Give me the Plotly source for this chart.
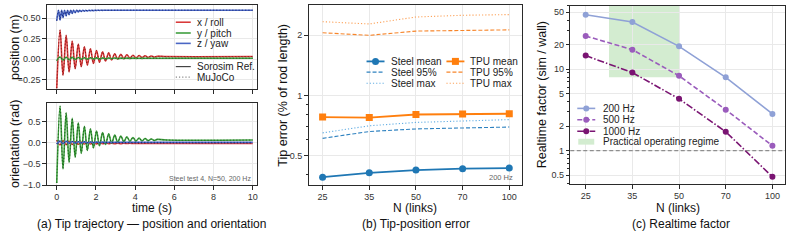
import numpy as np
import plotly.graph_objects as go

# ---------------- Panel (a): tip trajectory (extrema) ----------------
t_ext = [0.0, 0.17, 0.32, 0.48, 0.63, 0.79, 0.94, 1.10, 1.25, 1.41, 1.56, 1.72, 1.87, 2.03,
         2.18, 2.34, 2.49, 2.65, 2.80, 2.96, 3.11, 3.27, 3.42, 3.58, 3.73, 3.89, 4.04, 4.20,
         4.35, 4.51, 4.66, 4.82, 4.97, 5.13, 5.60, 10.0]
pos_x = [-0.36, 0.357, -0.20, 0.29, -0.16, 0.22, -0.12, 0.185, -0.095, 0.15, -0.075, 0.125,
         -0.055, 0.105, -0.04, 0.088, -0.025, 0.075, -0.012, 0.065, -0.003, 0.058, 0.004, 0.052,
         0.01, 0.047, 0.014, 0.043, 0.018, 0.04, 0.021, 0.037, 0.024, 0.034, 0.03, 0.03]
pos_y = [-0.02, 0.025, -0.012, 0.022, -0.008, 0.02, -0.005, 0.018, -0.003, 0.016, -0.001, 0.015,
         0.0, 0.014, 0.002, 0.013, 0.003, 0.012, 0.004, 0.012, 0.005, 0.011, 0.006, 0.011,
         0.007, 0.011, 0.008, 0.01, 0.008, 0.01, 0.009, 0.01, 0.009, 0.01, 0.01, 0.01]
t_z = [0.0, 0.09, 0.17, 0.25, 0.32, 0.40, 0.48, 0.55, 0.63, 0.71, 0.79, 0.86, 0.94, 1.02, 1.10,
       1.17, 1.25, 1.33, 1.41, 1.48, 1.56, 1.64, 1.72, 1.79, 1.87, 1.95, 2.03, 2.10, 2.18, 2.26,
       2.34, 2.41, 2.49, 3.0, 10.0]
pos_z = [0.47, 0.60, 0.48, 0.60, 0.51, 0.60, 0.53, 0.60, 0.545, 0.60, 0.56, 0.60, 0.57, 0.60,
         0.577, 0.60, 0.583, 0.60, 0.588, 0.60, 0.591, 0.60, 0.593, 0.60, 0.595, 0.60, 0.596,
         0.60, 0.597, 0.60, 0.598, 0.60, 0.599, 0.60, 0.60]
ori_roll = [0.06, -0.05, 0.05, -0.045, 0.035, -0.04, 0.025, -0.035, 0.015, -0.03, 0.008, -0.028,
            0.002, -0.025, -0.003, -0.023, -0.006, -0.021, -0.008, -0.02, -0.01, -0.019, -0.011,
            -0.018, -0.012, -0.017, -0.013, -0.017, -0.014, -0.016, -0.014, -0.016, -0.015,
            -0.015, -0.015, -0.015]
ori_pitch = [-0.95, 0.87, -0.62, 0.71, -0.46, 0.58, -0.34, 0.47, -0.25, 0.39, -0.18, 0.33,
             -0.12, 0.28, -0.07, 0.24, -0.04, 0.21, -0.01, 0.18, 0.01, 0.16, 0.025, 0.14,
             0.035, 0.125, 0.04, 0.11, 0.045, 0.10, 0.05, 0.09, 0.055, 0.08, 0.065, 0.065]
ori_yaw = [-0.03, 0.04, -0.02, 0.035, -0.012, 0.03, -0.006, 0.025, -0.002, 0.021, 0.001, 0.018,
           0.003, 0.016, 0.005, 0.015, 0.006, 0.014, 0.007, 0.013, 0.008, 0.012, 0.008, 0.012,
           0.009, 0.011, 0.009, 0.011, 0.01, 0.011, 0.01, 0.01, 0.01, 0.01, 0.01, 0.01]
time_ticks = [0, 2, 4, 6, 8, 10]

# ---------------- Panel (b): tip-position error (% of rod length) ----------------
N_links = [25, 35, 50, 70, 100]
steel_mean = [0.39, 0.41, 0.423, 0.43, 0.433]
steel_p95 = [0.61, 0.66, 0.68, 0.69, 0.695]
steel_max = [0.65, 0.705, 0.733, 0.748, 0.757]
tpu_mean = [0.78, 0.775, 0.803, 0.807, 0.81]
tpu_p95 = [2.06, 2.00, 2.10, 2.12, 2.13]
tpu_max = [2.34, 2.28, 2.47, 2.52, 2.54]
err_ticks = [0.5, 1, 2]
err_minor = [0.4, 0.6, 0.7, 0.8, 0.9]

# ---------------- Panel (c): realtime factor ----------------
rtf_200 = [46.6, 38.1, 19.1, 7.95, 2.83]
rtf_500 = [25.6, 17.4, 8.3, 3.19, 1.15]
rtf_1000 = [14.7, 9.1, 4.33, 1.71, 0.478]
regime_N = [30, 50]
realtime_line = 1.0
rtf_ticks = [0.5, 1, 2, 5, 10, 20, 50]
rtf_minor = [0.4, 0.6, 0.7, 0.8, 0.9, 3, 4, 6, 7, 8, 9, 30, 40, 60]

idx = list(range(len(N_links)))
FONT = "Liberation Sans, Arial, sans-serif"
W, H = 793, 241

C_RED, C_GRN, C_BLU = '#d93a3a', '#3f9f3f', '#4a66c4'
C_RED_D, C_GRN_D, C_BLU_D = '#7a1515', '#175c17', '#15256e'
C_STEEL, C_STEEL95, C_STEELMX = '#1f77b4', '#2f82c0', '#64aee3'
C_TPU, C_TPU95, C_TPUMX = '#ff7f0e', '#f7852a', '#fca25a'
C_200, C_500, C_1000 = '#8fa1d6', '#9a5cbc', '#7a1472'
C_REGIME = '#d3ecd0'

DASH = '4px,2px'
DOT = '1.2px,2px'
DASHDOT = '7px,2px,1.5px,2px'

fig = go.Figure()

def ts(x, y, color, xa, ya, dash='solid', width=1.6):
    fig.add_trace(go.Scatter(x=x, y=y, mode='lines', xaxis=xa, yaxis=ya, showlegend=False,
                             line=dict(color=color, width=width, dash=dash, shape='spline', smoothing=1.0),
                             hoverinfo='skip'))

# Panel a, top (position)
for (tt, vv, c, cd) in [(t_ext, pos_x, C_RED, C_RED_D), (t_ext, pos_y, C_GRN, C_GRN_D), (t_z, pos_z, C_BLU, C_BLU_D)]:
    ts(tt, vv, c, 'x', 'y', width=1.6)
    ts(tt, vv, cd, 'x', 'y', dash=DOT, width=0.9)
# Panel a, bottom (orientation)
for (vv, c, cd) in [(ori_roll, C_RED, C_RED_D), (ori_pitch, C_GRN, C_GRN_D), (ori_yaw, C_BLU, C_BLU_D)]:
    ts(t_ext, vv, c, 'x2', 'y2', width=1.6)
    ts(t_ext, vv, cd, 'x2', 'y2', dash=DOT, width=0.9)

def series(x, y, color, xa, ya, dash='solid', width=1.2, symbol=None, msize=6):
    mode = 'lines+markers' if symbol else 'lines'
    fig.add_trace(go.Scatter(x=x, y=y, mode=mode, xaxis=xa, yaxis=ya, showlegend=False,
                             line=dict(color=color, width=width, dash=dash),
                             marker=dict(symbol=symbol or 'circle', size=msize, color=color),
                             hoverinfo='skip'))

# Panel b
series(idx, steel_p95, C_STEEL95, 'x3', 'y3', dash=DASH, width=1.1)
series(idx, steel_max, C_STEELMX, 'x3', 'y3', dash=DOT, width=1.1)
series(idx, tpu_p95, C_TPU95, 'x3', 'y3', dash=DASH, width=1.1)
series(idx, tpu_max, C_TPUMX, 'x3', 'y3', dash=DOT, width=1.1)
series(idx, steel_mean, C_STEEL, 'x3', 'y3', width=1.8, symbol='circle', msize=7)
series(idx, tpu_mean, C_TPU, 'x3', 'y3', width=1.8, symbol='square', msize=7)

# Panel c
series(idx, rtf_200, C_200, 'x4', 'y4', width=1.6, symbol='circle', msize=6)
series(idx, rtf_500, C_500, 'x4', 'y4', dash='5px,2.5px', width=1.6, symbol='circle', msize=6)
series(idx, rtf_1000, C_1000, 'x4', 'y4', dash=DASHDOT, width=1.6, symbol='circle', msize=6)

reg_lo, reg_hi = np.interp(regime_N, N_links, idx)

# ---------------- axes ----------------
def axis(**kw):
    d = dict(showline=True, linecolor='#2a2a2a', linewidth=1.1, mirror=True, ticks='outside',
             ticklen=3.5, tickwidth=0.8, tickcolor='#2a2a2a', tickfont=dict(size=9, color='#333', family=FONT),
             showgrid=True, gridcolor='#e9e9e9', gridwidth=0.8, zeroline=False, fixedrange=True)
    d.update(kw)
    return d

px_x = lambda a, b: [a / W, b / W]
px_y = lambda top, bot: [1 - bot / H, 1 - top / H]

xa_dom = px_x(47, 257)
xb_dom = px_x(309, 523)
xc_dom = px_x(571, 786)

layout = dict(
    width=W, height=H, autosize=False, margin=dict(l=0, r=0, t=0, b=0),
    paper_bgcolor='white', plot_bgcolor='rgba(0,0,0,0)', font=dict(family=FONT, color='#222'),
    showlegend=False,
    xaxis=axis(domain=xa_dom, anchor='y', range=[-0.5, 10.2], tickvals=time_ticks, showticklabels=False),
    yaxis=axis(domain=px_y(5, 91), anchor='x', range=[-0.37, 0.665], tickvals=[-0.25, 0, 0.25, 0.5], tickformat='.2f'),
    xaxis2=axis(domain=xa_dom, anchor='y2', range=[-0.5, 10.2], tickvals=time_ticks),
    yaxis2=axis(domain=px_y(105, 189), anchor='x2', range=[-1.0, 0.945], tickvals=[-1.0, -0.5, 0, 0.5], tickformat='.1f'),
    xaxis3=axis(domain=xb_dom, anchor='y3', range=[-0.3, 4.28], tickvals=idx, ticktext=[str(n) for n in N_links]),
    yaxis3=axis(domain=px_y(5, 189), anchor='x3', type='log', range=[np.log10(0.356), np.log10(2.84)],
                tickvals=err_ticks, ticktext=[f'{v:g}' for v in err_ticks],
                minor=dict(tickvals=err_minor, ticks='outside', ticklen=2, tickcolor='#2a2a2a', showgrid=False)),
    xaxis4=axis(domain=xc_dom, anchor='y4', range=[-0.33, 4.27], tickvals=idx, ticktext=[str(n) for n in N_links]),
    yaxis4=axis(domain=px_y(6, 188), anchor='x4', type='log', range=[-0.41, 1.778],
                tickvals=rtf_ticks, ticktext=[f'{v:g}' for v in rtf_ticks],
                minor=dict(tickvals=rtf_minor, ticks='outside', ticklen=2, tickcolor='#2a2a2a', showgrid=False)),
    xaxis5=dict(domain=[0, 1], anchor='y5', range=[0, W], visible=False, fixedrange=True),
    yaxis5=dict(domain=[0, 1], anchor='x5', range=[H, 0], visible=False, fixedrange=True),
)
fig.update_layout(**layout)

# regime shading and realtime reference line
fig.add_shape(type='rect', xref='x4', yref='y4 domain', x0=reg_lo, x1=reg_hi, y0=0.6, y1=1.0,
              fillcolor=C_REGIME, line=dict(width=0), layer='below')
fig.add_shape(type='line', xref='x4 domain', yref='y4', x0=0, x1=1, y0=realtime_line, y1=realtime_line,
              line=dict(color='#777', width=1, dash='4px,2.5px'), layer='above')

# ---------------- legends (drawn on a hidden pixel canvas) ----------------
def leg(x0, y, label, color, dash='solid', width=1.6, symbol=None, msize=6, sw=18, gap=4, fs=10):
    fig.add_trace(go.Scatter(x=[x0, x0 + sw], y=[y, y], mode='lines', xaxis='x5', yaxis='y5',
                             line=dict(color=color, width=width, dash=dash), showlegend=False,
                             hoverinfo='skip', cliponaxis=False))
    if symbol:
        fig.add_trace(go.Scatter(x=[x0 + sw / 2], y=[y], mode='markers', xaxis='x5', yaxis='y5',
                                 marker=dict(symbol=symbol, size=msize, color=color), showlegend=False,
                                 hoverinfo='skip', cliponaxis=False))
    fig.add_annotation(x=x0 + sw + gap, y=y, xref='x5', yref='y5', text=label, showarrow=False,
                       xanchor='left', yanchor='middle', font=dict(size=fs, color='#222', family=FONT))

# panel a legend
leg(176, 22.7, 'x / roll', C_RED, sw=15)
leg(176, 33.7, 'y / pitch', C_GRN, sw=15)
leg(176, 44.3, 'z / yaw', C_BLU, sw=15)
leg(176, 68.0, 'Sorosim Ref.', '#444444', width=1.2, sw=15)
leg(176, 78.7, 'MuJoCo', '#888888', dash=DOT, width=1.2, sw=15)
# panel b legend
leg(367, 62.7, 'Steel mean', C_STEEL, width=1.8, symbol='circle', msize=7)
leg(367, 73.7, 'Steel 95%', C_STEEL95, dash=DASH, width=1.1)
leg(367, 85.0, 'Steel max', C_STEELMX, dash=DOT, width=1.1)
leg(447, 62.7, 'TPU mean', C_TPU, width=1.8, symbol='square', msize=7)
leg(447, 73.7, 'TPU 95%', C_TPU95, dash=DASH, width=1.1)
leg(447, 85.0, 'TPU max', C_TPUMX, dash=DOT, width=1.1)
# panel c legend
leg(578, 110.7, '200 Hz', C_200, symbol='circle', msize=6, gap=6)
leg(578, 122.3, '500 Hz', C_500, dash='5px,2.5px', symbol='circle', msize=6, gap=6)
leg(578, 134.0, '1000 Hz', C_1000, dash=DASHDOT, symbol='circle', msize=6, gap=6)
fig.add_shape(type='rect', xref='x5', yref='y5', x0=579, x1=595, y0=141.7, y1=147.7,
              fillcolor=C_REGIME, line=dict(width=0))
fig.add_annotation(x=602, y=144.7, xref='x5', yref='y5', text='Practical operating regime', showarrow=False,
                   xanchor='left', yanchor='middle', font=dict(size=10, color='#222', family=FONT))

# ---------------- text: axis titles, notes, captions ----------------
def txt(x, y, s, size=12, angle=0, color='#111', xanchor='center'):
    fig.add_annotation(x=x, y=y, xref='x5', yref='y5', text=s, showarrow=False, textangle=angle,
                       xanchor=xanchor, yanchor='middle', font=dict(size=size, color=color, family=FONT))

txt(15, 48, 'position (m)', 12.5, -90)
txt(15, 147, 'orientation (rad)', 12.5, -90)
txt(152, 212.5, 'time (s)', 12)
txt(283, 97, 'Tip error (% of rod length)', 12.5, -90)
txt(416, 212.5, 'N (links)', 12)
txt(543, 97, 'Realtime factor (sim / wall)', 12.5, -90)
txt(679, 212.5, 'N (links)', 12)
txt(253, 182, 'Steel test 4, N=50, 200 Hz', 7, color='#666', xanchor='right')
txt(516, 181.5, '200 Hz', 7.5, color='#666', xanchor='right')
txt(152, 228.5, '(a) Tip trajectory — position and orientation', 12)
txt(417, 228.5, '(b) Tip-position error', 12)
txt(682, 228.5, '(c) Realtime factor', 12)

fig.write_html("out.html")
